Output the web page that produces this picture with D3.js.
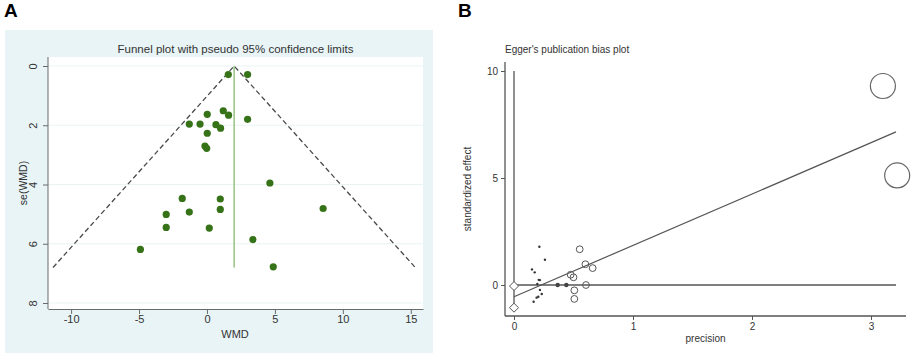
<!DOCTYPE html>
<html>
<head>
<meta charset="utf-8">
<script src="https://cdn.jsdelivr.net/npm/d3@7"></script>
<style>
  body { margin: 0; background: #fff; }
  svg { display: block; font-family: "Liberation Sans", Arial, sans-serif; }
</style>
</head>
<body>
<div id="chart"></div>
<script>
// A: funnel plot points [WMD, se(WMD)]
const funnelWMD = [1.57, 2.99, 0.02, 1.2, 1.59, 2.99, -1.3, -0.51, 0.66, 1.0, 0.02, -0.15, -0.02, 4.63,
                   -1.82, 0.98, -3.0, -1.3, 0.98, 8.55, -3.0, 0.17, -4.9, 3.38, 4.88];
const funnelSE  = [0.29, 0.29, 1.63, 1.51, 1.66, 1.80, 1.96, 1.96, 1.98, 2.1, 2.27, 2.70, 2.78, 3.95,
                   4.47, 4.49, 5.01, 4.93, 4.84, 4.81, 5.45, 5.47, 6.19, 5.86, 6.78];
const pooledWMD = 2.0;
const maxSE = 6.8;
const funnelXTicks = [-10, -5, 0, 5, 10, 15];
const funnelYTicks = [0, 2, 4, 6, 8];

// B: Egger plot [precision, standardized effect]
const eggerDots = [[0.213, 1.79], [0.26, 1.18], [0.151, 0.73], [0.174, 0.59], [0.218, 0.23], [0.208, 0.24],
                   [0.196, 0.05], [0.218, -0.23], [0.233, -0.42], [0.204, -0.55], [0.19, -0.59], [0.165, -0.78]];
const eggerFilled = [[0.367, 0.0], [0.44, 0.0]];
const eggerCircles = [[0.552, 1.67], [0.60, 0.97], [0.661, 0.79], [0.476, 0.48], [0.50, 0.36],
                      [0.605, 0.0], [0.507, -0.25], [0.507, -0.65]];
const eggerDiamonds = [[0, -0.05], [0, -1.06]];
const eggerBig = [[3.10, 9.3], [3.22, 5.12]];
const eggerIntercept = -0.55;
const eggerSlope = 2.40;
const eggerCI = [-0.93, 10];
const eggerXTicks = [0, 1, 2, 3];
const eggerYTicks = [0, 5, 10];

const svg = d3.select("#chart").append("svg").attr("width", 913).attr("height", 356);
const plain = d => String(d); // 用普通连字符作负号

// 面板字母
svg.append("text").attr("x", 4).attr("y", 17).style("font-size", "19px").style("font-weight", "bold").text("A");
svg.append("text").attr("x", 458).attr("y", 17).style("font-size", "19px").style("font-weight", "bold").text("B");

// ---------- Panel A ----------
const gA = svg.append("g");
gA.append("rect").attr("x", 5).attr("y", 30).attr("width", 428).attr("height", 323).attr("fill", "#e8f4f6");
const pa = { left: 48, right: 423, top: 57, bottom: 309 };
gA.append("rect").attr("x", pa.left).attr("y", pa.top).attr("width", pa.right - pa.left)
  .attr("height", pa.bottom - pa.top).attr("fill", "#ffffff");

const xA = d3.scaleLinear().domain([-11.7, 15.9]).range([pa.left, pa.right]);
const yA = d3.scaleLinear().domain([0, 8]).range([66, 303]);

// 网格线
gA.selectAll(".grid").data(funnelYTicks).join("line")
  .attr("x1", pa.left).attr("x2", pa.right)
  .attr("y1", d => yA(d)).attr("y2", d => yA(d))
  .attr("stroke", "#eaf3f4").attr("stroke-width", 1);

const axA = gA.append("g").attr("transform", `translate(0,${pa.bottom})`)
  .call(d3.axisBottom(xA).tickValues(funnelXTicks).tickFormat(plain).tickSize(5).tickSizeOuter(0));
axA.select(".domain").attr("stroke", "#6b6b6b");
axA.selectAll(".tick line").attr("stroke", "#6b6b6b");
axA.selectAll(".tick text").attr("fill", "#333").attr("dy", "0.5em").style("font-size", "11px");

const ayA = gA.append("g").attr("transform", `translate(${pa.left},0)`)
  .call(d3.axisLeft(yA).tickValues(funnelYTicks).tickSize(5).tickSizeOuter(0));
ayA.select(".domain").attr("d", `M0,${pa.top}V${pa.bottom}`).attr("stroke", "#6b6b6b");
ayA.selectAll(".tick line").attr("stroke", "#6b6b6b");
ayA.selectAll(".tick text").attr("fill", "#333").style("font-size", "11px")
  .attr("x", 0).attr("dy", 0).attr("text-anchor", "middle")
  .attr("transform", "translate(-11,0) rotate(-90)");

// 漏斗虚线
const funnelLine = [[pooledWMD - 1.96 * maxSE, maxSE], [pooledWMD, 0], [pooledWMD + 1.96 * maxSE, maxSE]];
gA.append("path")
  .attr("d", d3.line().x(d => xA(d[0])).y(d => yA(d[1]))(funnelLine))
  .attr("fill", "none").attr("stroke", "#4a4a4a").attr("stroke-width", 1.3)
  .attr("stroke-dasharray", "5,3");

gA.append("line")
  .attr("x1", xA(pooledWMD)).attr("x2", xA(pooledWMD))
  .attr("y1", yA(0)).attr("y2", yA(maxSE))
  .attr("stroke", "#97c285").attr("stroke-width", 1.5);

gA.selectAll(".pt").data(funnelWMD).join("circle")
  .attr("cx", d => xA(d)).attr("cy", (d, i) => yA(funnelSE[i])).attr("r", 3.6)
  .attr("fill", "#367318");

gA.append("text").attr("x", (pa.left + pa.right) / 2).attr("y", 53).attr("text-anchor", "middle")
  .attr("fill", "#333").style("font-size", "11.5px").text("Funnel plot with pseudo 95% confidence limits");
gA.append("text").attr("x", 235).attr("y", 338).attr("text-anchor", "middle")
  .attr("fill", "#333").style("font-size", "11px").text("WMD");
gA.append("text").attr("transform", `translate(27,${(pa.top + pa.bottom) / 2}) rotate(-90)`)
  .attr("text-anchor", "middle").attr("fill", "#333").style("font-size", "10.5px").text("se(WMD)");

// ---------- Panel B ----------
const gB = svg.append("g");
const pb = { left: 505, right: 906, top: 62, bottom: 316 };
const xB = d3.scaleLinear().domain([0, 3]).range([514, 871]);
const yB = d3.scaleLinear().domain([0, 10]).range([285, 71]);
const ink = "#555";

const axB = gB.append("g").attr("transform", `translate(0,${pb.bottom})`)
  .call(d3.axisBottom(xB).tickValues(eggerXTicks).tickFormat(plain).tickSize(4).tickSizeOuter(0));
axB.select(".domain").attr("d", `M${pb.left},0H${pb.right}`).attr("stroke", ink).attr("stroke-width", 1.3);
axB.selectAll(".tick line").attr("stroke", ink);
axB.selectAll(".tick text").attr("fill", "#333").style("font-size", "10px");

const ayB = gB.append("g").attr("transform", `translate(${pb.left},0)`)
  .call(d3.axisLeft(yB).tickValues(eggerYTicks).tickFormat(plain).tickSize(4).tickSizeOuter(0));
ayB.select(".domain").attr("d", `M0,${pb.top}V${pb.bottom}`).attr("stroke", ink).attr("stroke-width", 1.3);
ayB.selectAll(".tick line").attr("stroke", ink);
ayB.selectAll(".tick text").attr("fill", "#333").style("font-size", "10px");

// 截距置信区间竖线
gB.append("line").attr("x1", xB(0)).attr("x2", xB(0))
  .attr("y1", yB(eggerCI[0])).attr("y2", yB(eggerCI[1])).attr("stroke", ink).attr("stroke-width", 1.3);
// 零线
gB.append("line").attr("x1", xB(0)).attr("x2", xB(3.21))
  .attr("y1", yB(0)).attr("y2", yB(0)).attr("stroke", ink).attr("stroke-width", 1.3);
// 回归线
gB.append("line").attr("x1", xB(0)).attr("x2", xB(3.21))
  .attr("y1", yB(eggerIntercept)).attr("y2", yB(eggerIntercept + eggerSlope * 3.21))
  .attr("stroke", ink).attr("stroke-width", 1.2);

gB.selectAll(".dot").data(eggerDots).join("circle")
  .attr("cx", d => xB(d[0])).attr("cy", d => yB(d[1])).attr("r", 1.2).attr("fill", "#333");
gB.selectAll(".fdot").data(eggerFilled).join("circle")
  .attr("cx", d => xB(d[0])).attr("cy", d => yB(d[1])).attr("r", 2.2).attr("fill", "#444");
gB.selectAll(".ocirc").data(eggerCircles).join("circle")
  .attr("cx", d => xB(d[0])).attr("cy", d => yB(d[1])).attr("r", 3.4)
  .attr("fill", "none").attr("stroke", "#555").attr("stroke-width", 1);
gB.selectAll(".diam").data(eggerDiamonds).join("path")
  .attr("transform", d => `translate(${xB(d[0])},${yB(d[1])})`)
  .attr("d", "M0,-4.5L4.5,0L0,4.5L-4.5,0Z")
  .attr("fill", "#fff").attr("stroke", "#555").attr("stroke-width", 1);
gB.selectAll(".big").data(eggerBig).join("circle")
  .attr("cx", d => xB(d[0])).attr("cy", d => yB(d[1])).attr("r", 12.5)
  .attr("fill", "none").attr("stroke", "#666").attr("stroke-width", 1.2);

gB.append("text").attr("x", 505).attr("y", 53).attr("fill", "#333").style("font-size", "10px")
  .text("Egger's publication bias plot");
gB.append("text").attr("x", (pb.left + pb.right) / 2).attr("y", 342).attr("text-anchor", "middle")
  .attr("fill", "#333").style("font-size", "10px").text("precision");
gB.append("text").attr("transform", `translate(471,${(pb.top + pb.bottom) / 2}) rotate(-90)`)
  .attr("text-anchor", "middle").attr("fill", "#333").style("font-size", "10px").text("standardized effect");
</script>
</body>
</html>
